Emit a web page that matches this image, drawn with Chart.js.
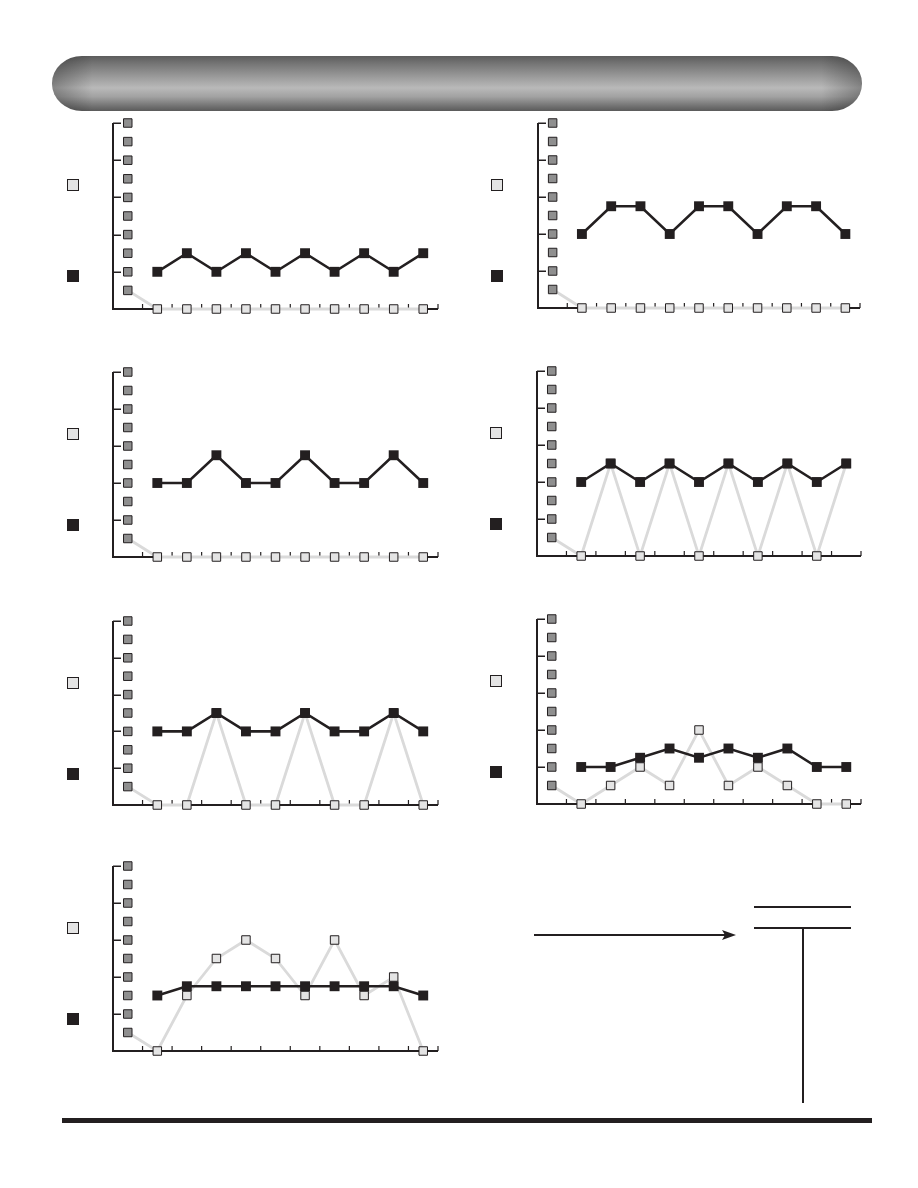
<!DOCTYPE html>
<html>
<head>
<meta charset="utf-8">
<script src="https://cdn.jsdelivr.net/npm/chart.js@4.4.1/dist/chart.umd.min.js"></script>
<style>
  html, body { margin: 0; padding: 0; background: #ffffff; }
  body { width: 918px; height: 1188px; position: relative; overflow: hidden; font-family: "Liberation Sans", Arial, sans-serif; }
  .banner {
    position: absolute; left: 52px; top: 56px; width: 810px; height: 55px;
    border-radius: 30px / 27px;
    background:
      linear-gradient(to right, rgba(0,0,0,0.28) 0%, rgba(0,0,0,0) 5%, rgba(0,0,0,0) 95%, rgba(0,0,0,0.28) 100%),
      linear-gradient(to bottom, #5c5c5c 0%, #757575 14%, #9e9e9e 40%, #b9b9b9 58%, #a2a2a2 74%, #757575 90%, #5a5a5a 100%);
  }
  canvas { position: absolute; }
  .lg { position: absolute; box-sizing: border-box; }
  .lg.light { width: 12px; height: 12px; background: #e4e4e4; border: 1.5px solid #231f20; }
  .lg.dark { width: 12px; height: 12px; background: #231f20; }
  .hl { position: absolute; background: #231f20; }
</style>
</head>
<body>
<div class="banner"></div>

<!-- bottom-right decorations -->
<div class="hl" style="left:534px; top:934px; width:192px; height:1.5px;"></div>
<svg style="position:absolute; left:720px; top:928px;" width="20" height="14">
  <polygon points="2,2 16,7 2,12 5,7" fill="#231f20"/>
</svg>
<div class="hl" style="left:754px; top:906px; width:97px; height:1.5px;"></div>
<div class="hl" style="left:754px; top:927px; width:97px; height:1.5px;"></div>
<div class="hl" style="left:802px; top:928px; width:1.5px; height:175px;"></div>
<div class="hl" style="left:62px; top:1118px; width:810px; height:5px;"></div>

<script>
// ---------------- DATA ----------------
const categories = ['0', '1', '2', '3', '4', '5', '6', '7', '8', '9', '10'];
const scaleLevels = [1, 2, 3, 4, 5, 6, 7, 8, 9, 10];
const yTickValues = [2, 4, 6, 8, 10];

const chart1Dark  = [2, 3, 2, 3, 2, 3, 2, 3, 2, 3];
const chart1Light = [1, 0, 0, 0, 0, 0, 0, 0, 0, 0, 0];

const chart2Dark  = [4, 5.5, 5.5, 4, 5.5, 5.5, 4, 5.5, 5.5, 4];
const chart2Light = [1, 0, 0, 0, 0, 0, 0, 0, 0, 0, 0];

const chart3Dark  = [4, 4, 5.5, 4, 4, 5.5, 4, 4, 5.5, 4];
const chart3Light = [1, 0, 0, 0, 0, 0, 0, 0, 0, 0, 0];

const chart4Dark  = [4, 5, 4, 5, 4, 5, 4, 5, 4, 5];
const chart4Light = [1, 0, 5, 0, 5, 0, 5, 0, 5, 0, 5];

const chart5Dark  = [4, 4, 5, 4, 4, 5, 4, 4, 5, 4];
const chart5Light = [1, 0, 0, 5, 0, 0, 5, 0, 0, 5, 0];

const chart6Dark  = [2, 2, 2.5, 3, 2.5, 3, 2.5, 3, 2, 2];
const chart6Light = [1, 0, 1, 2, 1, 4, 1, 2, 1, 0, 0];

const chart7Dark  = [3, 3.5, 3.5, 3.5, 3.5, 3.5, 3.5, 3.5, 3.5, 3];
const chart7Light = [1, 0, 3, 5, 6, 5, 3, 6, 3, 4, 0];

// ---------------- LAYOUT ----------------
const panels = [
  { dark: chart1Dark, light: chart1Light, left: 113, right: 438, top: 123, bottom: 309, lgx: 73 },
  { dark: chart2Dark, light: chart2Light, left: 538, right: 860, top: 123, bottom: 308, lgx: 497 },
  { dark: chart3Dark, light: chart3Light, left: 113, right: 438, top: 372, bottom: 557, lgx: 73 },
  { dark: chart4Dark, light: chart4Light, left: 537, right: 861, top: 371, bottom: 556, lgx: 496 },
  { dark: chart5Dark, light: chart5Light, left: 113, right: 438, top: 621, bottom: 805, lgx: 73 },
  { dark: chart6Dark, light: chart6Light, left: 537, right: 861, top: 619, bottom: 804, lgx: 496 },
  { dark: chart7Dark, light: chart7Light, left: 113, right: 438, top: 866, bottom: 1051, lgx: 73 }
];

const INK = '#231f20';

const axisMarks = {
  id: 'axisMarks',
  beforeDatasetsDraw(chart) {
    const { ctx, chartArea: a, scales: { x, y } } = chart;
    const y0 = y.getPixelForValue(0);
    const yTop = y.getPixelForValue(10);
    ctx.save();
    ctx.strokeStyle = INK;
    ctx.lineCap = 'butt';
    // axes
    ctx.lineWidth = 2;
    ctx.beginPath();
    ctx.moveTo(a.left, yTop);
    ctx.lineTo(a.left, y0);
    ctx.lineTo(a.right, y0);
    ctx.stroke();
    // y ticks (inward)
    ctx.lineWidth = 1.5;
    yTickValues.forEach(v => {
      const p = Math.round(y.getPixelForValue(v)) + 0.25;
      ctx.beginPath();
      ctx.moveTo(a.left, p);
      ctx.lineTo(a.left + 8, p);
      ctx.stroke();
    });
    // x ticks at category boundaries (inward)
    ctx.lineWidth = 1.2;
    for (let i = 0; i < categories.length; i++) {
      const p = i < categories.length - 1
        ? (x.getPixelForValue(i) + x.getPixelForValue(i + 1)) / 2
        : a.right;
      ctx.beginPath();
      ctx.moveTo(p, y0);
      ctx.lineTo(p, y0 - 5);
      ctx.stroke();
    }
    ctx.restore();
  }
};

const PAD_L = 40, PAD_T = 16, PAD_R = 16, PAD_B = 16;

panels.forEach((p, idx) => {
  const cv = document.createElement('canvas');
  const w = (p.right - p.left) + PAD_L + PAD_R;
  const h = (p.bottom - p.top) + PAD_T + PAD_B;
  cv.width = w; cv.height = h;
  cv.style.left = (p.left - PAD_L) + 'px';
  cv.style.top = (p.top - PAD_T) + 'px';
  cv.style.width = w + 'px'; cv.style.height = h + 'px';
  document.body.appendChild(cv);

  // legend markers
  const l1 = document.createElement('div');
  l1.className = 'lg light';
  l1.style.left = (p.lgx - 6) + 'px'; l1.style.top = (p.top + 62 - 6) + 'px';
  document.body.appendChild(l1);
  const l2 = document.createElement('div');
  l2.className = 'lg dark';
  l2.style.left = (p.lgx - 6) + 'px'; l2.style.top = (p.top + 153 - 6) + 'px';
  document.body.appendChild(l2);

  new Chart(cv, {
    type: 'line',
    data: {
      labels: categories,
      datasets: [
        {
          label: 'dark',
          data: [null].concat(p.dark),
          borderColor: INK,
          borderWidth: 2.6,
          backgroundColor: INK,
          pointStyle: 'rect',
          pointRadius: 7,
          pointBorderWidth: 0,
          pointBackgroundColor: INK,
          tension: 0,
          clip: false,
          spanGaps: false
        },
        {
          label: 'levels',
          data: scaleLevels.map(v => ({ x: categories[0], y: v })),
          showLine: false,
          pointStyle: 'rect',
          pointRadius: 6,
          pointBorderWidth: 1,
          pointBorderColor: INK,
          pointBackgroundColor: '#8f8f8f',
          clip: false
        },
        {
          label: 'light',
          data: p.light,
          borderColor: '#dadada',
          borderWidth: 2.8,
          pointStyle: 'rect',
          pointRadius: ctx => ctx.dataIndex === 0 ? 0 : 6,
          pointBorderWidth: 1,
          pointBorderColor: INK,
          pointBackgroundColor: '#e4e4e4',
          tension: 0,
          clip: false
        }
      ]
    },
    options: {
      responsive: false,
      animation: false,
      devicePixelRatio: 1,
      layout: { padding: { left: PAD_L, right: PAD_R, top: PAD_T, bottom: PAD_B } },
      plugins: { legend: { display: false }, tooltip: { enabled: false } },
      events: [],
      scales: {
        x: { type: 'category', offset: true, display: false },
        y: { type: 'linear', min: 0, max: 10, display: false }
      }
    },
    plugins: [axisMarks]
  });
});
</script>
</body>
</html>
